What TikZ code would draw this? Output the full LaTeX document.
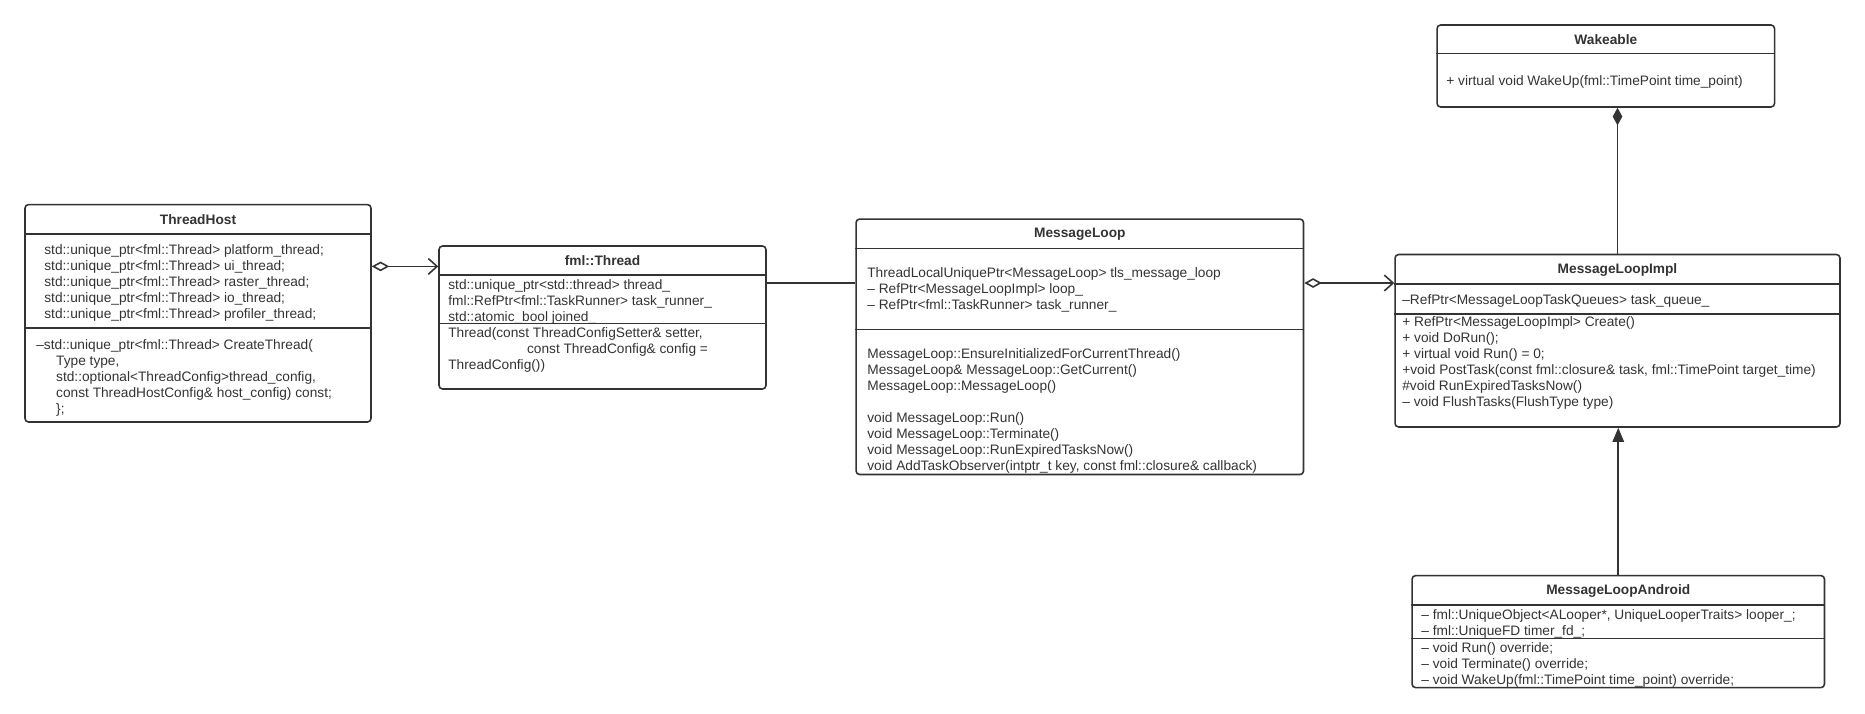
\documentclass[tikz,border=0pt]{standalone}
\usepackage{fontspec}
\setmainfont{Liberation Sans}
\usetikzlibrary{arrows.meta}
\definecolor{umlgray}{HTML}{333333}

\begin{document}
\begin{tikzpicture}[
    x=0.02cm, y=-0.02cm,
    box/.style={draw=umlgray, line width=0.9pt, rounded corners=2pt, inner sep=0pt},
    divider/.style={draw=umlgray, line width=0.9pt},
    head/.style={font=\fontsize{7.8}{9.07}\selectfont\bfseries, text=umlgray, inner sep=0pt},
    % base of a multi-line text = baseline of its last line
    txt/.style={font=\fontsize{7.8}{9.07}\selectfont, text=umlgray, align=left, anchor=base west, inner sep=0pt},
    link/.style={draw=umlgray, line width=0.9pt},
    agg/.style={link, {Diamond[open,length=10pt,width=5.5pt]}-{Straight Barb[length=5pt,width=9pt]}},
    compos/.style={link, -{Diamond[length=10pt,width=5.5pt]}},
    inherit/.style={link, -{Triangle[length=8pt,width=6.5pt]}}
]
\useasboundingbox (0,0) rectangle (1865,713);

% ThreadHost
\node[box, minimum width=6.92cm, minimum height=4.35cm] (host) at (198,313.3) {};
\node[head] (hostname) at (198,219.5) {ThreadHost};
\draw[divider] (host.west |- 0,234) -- (host.east |- 0,234);
\draw[divider] (host.west |- 0,328) -- (host.east |- 0,328);
\node[txt] (hostattr) at (44,318) {std::unique\_ptr<fml::Thread> platform\_thread;\\
std::unique\_ptr<fml::Thread> ui\_thread;\\
std::unique\_ptr<fml::Thread> raster\_thread;\\
std::unique\_ptr<fml::Thread> io\_thread;\\
std::unique\_ptr<fml::Thread> profiler\_thread;};
\node[txt] (hostops) at (36,413) {–std::unique\_ptr<fml::Thread> CreateThread(\\
\hspace*{11.3pt}Type type,\\
\hspace*{11.3pt}std::optional<ThreadConfig>thread\_config,\\
\hspace*{11.3pt}const ThreadHostConfig\& host\_config) const;\\
\hspace*{11.3pt}\};};

% fml::Thread
\node[box, minimum width=6.54cm, minimum height=2.86cm] (thread) at (602.5,317.5) {};
\node[head] (threadname) at (602.5,260.5) {fml::Thread};
\draw[divider] (thread.west |- 0,275) -- (thread.east |- 0,275);
\draw[divider] (thread.west |- 0,323.5) -- (thread.east |- 0,323.5);
\node[txt] (threadattr) at (448,321.5) {std::unique\_ptr<std::thread> thread\_\\
fml::RefPtr<fml::TaskRunner> task\_runner\_\\
std::atomic\_bool joined\_};
\node[txt] (threadops) at (448,369) {Thread(const ThreadConfigSetter\& setter,\\
\hspace*{44.8pt}const ThreadConfig\& config =\\
ThreadConfig())};

% MessageLoop
\node[box, minimum width=8.95cm, minimum height=5.11cm] (loop) at (1079.8,346.8) {};
\node[head] (loopname) at (1079.8,234) {MessageLoop};
\draw[divider] (loop.west |- 0,248.6) -- (loop.east |- 0,248.6);
\draw[divider] (loop.west |- 0,329.5) -- (loop.east |- 0,329.5);
\node[txt] (loopattr) at (867,309.6) {ThreadLocalUniquePtr<MessageLoop> tls\_message\_loop\\
– RefPtr<MessageLoopImpl> loop\_\\
– RefPtr<fml::TaskRunner> task\_runner\_};
\node[txt] (loopinit) at (867,390) {MessageLoop::EnsureInitializedForCurrentThread()\\
MessageLoop\& MessageLoop::GetCurrent()\\
MessageLoop::MessageLoop()};
\node[txt] (loopops) at (867,470.7) {void MessageLoop::Run()\\
void MessageLoop::Terminate()\\
void MessageLoop::RunExpiredTasksNow()\\
void AddTaskObserver(intptr\_t key, const fml::closure\& callback)};

% MessageLoopImpl
\node[box, minimum width=8.9cm, minimum height=3.45cm] (impl) at (1617.5,340.75) {};
\node[head] (implname) at (1617.5,269.5) {MessageLoopImpl};
\draw[divider] (impl.west |- 0,284) -- (impl.east |- 0,284);
\draw[divider] (impl.west |- 0,314) -- (impl.east |- 0,314);
\node[txt] (implattr) at (1402,304) {–RefPtr<MessageLoopTaskQueues> task\_queue\_};
\node[txt] (implops) at (1402,406) {+ RefPtr<MessageLoopImpl> Create()\\
+ void DoRun();\\
+ virtual void Run() = 0;\\
+void PostTask(const fml::closure\& task, fml::TimePoint target\_time)\\
\#void RunExpiredTasksNow()\\
– void FlushTasks(FlushType type)};

% Wakeable
\node[box, minimum width=6.75cm, minimum height=1.64cm] (wake) at (1605.8,66) {};
\node[head] (wakename) at (1605.8,39.5) {Wakeable};
\draw[divider] (wake.west |- 0,53.5) -- (wake.east |- 0,53.5);
\node[txt] (wakeops) at (1446,86) {+ virtual void WakeUp(fml::TimePoint time\_point)};

% MessageLoopAndroid
\node[box, minimum width=8.25cm, minimum height=2.24cm] (android) at (1618.25,631.6) {};
\node[head] (androidname) at (1618.25,590.5) {MessageLoopAndroid};
\draw[divider] (android.west |- 0,605) -- (android.east |- 0,605);
\draw[divider] (android.west |- 0,638.7) -- (android.east |- 0,638.7);
\node[txt] (androidattr) at (1421,635) {– fml::UniqueObject<ALooper*, UniqueLooperTraits> looper\_;\\
– fml::UniqueFD timer\_fd\_;};
\node[txt] (androidops) at (1421,684) {– void Run() override;\\
– void Terminate() override;\\
– void WakeUp(fml::TimePoint time\_point) override;};

% Connectors
\draw[agg] (host.east |- 0,266.4) -- (thread.west |- 0,266.4);
\draw[link] (thread.east |- 0,283) -- (loop.west |- 0,283);
\draw[agg] (loop.east |- 0,283) -- (impl.west |- 0,283);
\draw[compos] (impl.north) -- (wake.south -| impl.north);
\draw[inherit] (android.north) -- (impl.south -| android.north);
\end{tikzpicture}
\end{document}
